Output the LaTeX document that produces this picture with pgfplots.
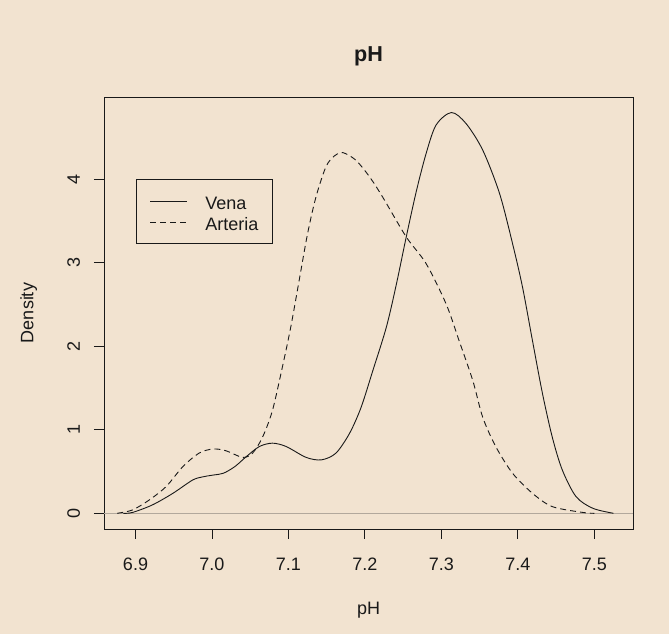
\documentclass[border=0pt]{standalone}
\usepackage{fontspec}
\setmainfont{Liberation Sans}
\usepackage{pgfplots}
\pgfplotsset{compat=1.18}
\definecolor{bgc}{RGB}{242,227,208}
\definecolor{ink}{RGB}{25,25,25}
\definecolor{zline}{RGB}{178,168,156}
\begin{document}
\begin{tikzpicture}
\useasboundingbox (0,0) rectangle (669bp,634bp);
\fill[bgc] (0,0) rectangle (669bp,634bp);
\begin{axis}[
  at={(104bp,105bp)}, anchor=south west, scale only axis,
  width=529bp, height=432bp,
  xmin=6.8588, xmax=7.5505, ymin=-0.188, ymax=4.986,
  axis line style={ink, line width=0.9bp},
  tick style={ink, line width=0.9bp},
  tick align=outside, tick pos=left, major tick length=10bp,
  xtick={6.9,7.0,7.1,7.2,7.3,7.4,7.5}, ytick={0,1,2,3,4},
  minor tick num=0,
  font=\fontsize{18bp}{21.6bp}\selectfont,
  /pgf/number format/assume math mode=true,
  tick label style={color=ink},
  xticklabel style={anchor=base, inner sep=0pt, yshift=-31.7bp,
    /pgf/number format/.cd, fixed, fixed zerofill, precision=1},
  yticklabel style={xshift=-14bp, rotate=90, anchor=base, inner sep=0pt},
  title={pH},
  title style={at={(rel axis cs:0.5,1.0678)}, anchor=base, inner sep=0pt,
    font=\fontsize{21.6bp}{26bp}\selectfont\bfseries, color=ink},
  xlabel={pH},
  xlabel style={at={(rel axis cs:0.5,-0.1968)}, anchor=base, inner sep=0pt, color=ink},
  ylabel={Density},
  ylabel style={at={(rel axis cs:-0.13365,0.5)}, anchor=base, inner sep=0pt, color=ink},
  legend image code/.code={\draw[#1] (0bp,0bp) -- (36.7bp,0bp);},
  legend cell align=left,
  legend style={at={(axis cs:6.9,4.0)}, anchor=north west, draw=ink, fill=bgc,
    line width=0.9bp, inner xsep=14bp, inner ysep=11bp, column sep=17.7bp,
    font=\fontsize{18bp}{21.6bp}\selectfont, text=ink,
    nodes={inner sep=0pt, text height=19bp, text depth=2bp}},
]
\addplot[zline, line width=0.7bp, forget plot] coordinates {(6.8588,0) (7.5505,0)};
\addplot[ink, line width=0.9bp, smooth, tension=0.5] coordinates {
(6.884,0) (6.896,0.01) (6.922,0.10) (6.949,0.24) (6.975,0.40) (6.990,0.44)
(7.003,0.46) (7.015,0.48) (7.030,0.56) (7.045,0.68) (7.062,0.80) (7.079,0.84)
(7.097,0.80) (7.123,0.67) (7.143,0.64) (7.162,0.72) (7.180,0.96) (7.195,1.27)
(7.210,1.70) (7.228,2.23) (7.241,2.74) (7.254,3.31) (7.267,3.85) (7.280,4.31)
(7.293,4.65) (7.313,4.80) (7.332,4.67) (7.354,4.35) (7.376,3.83) (7.393,3.23)
(7.406,2.71) (7.419,2.07) (7.432,1.44) (7.445,0.91) (7.458,0.52) (7.476,0.20)
(7.498,0.06) (7.525,0.00)};
\addlegendentry{Vena}
\addplot[ink, line width=0.9bp, dash pattern=on 6bp off 4bp, smooth, tension=0.5] coordinates {
(6.876,0) (6.896,0.04) (6.918,0.16) (6.940,0.32) (6.962,0.56) (6.983,0.72)
(7.001,0.77) (7.018,0.75) (7.040,0.67) (7.053,0.72) (7.066,0.91) (7.079,1.23)
(7.092,1.75) (7.103,2.23) (7.114,2.79) (7.125,3.35) (7.136,3.79) (7.149,4.15)
(7.160,4.28) (7.171,4.32) (7.188,4.23) (7.206,4.03) (7.223,3.79) (7.254,3.31)
(7.280,2.99) (7.306,2.51) (7.323,2.07) (7.341,1.59) (7.354,1.15) (7.371,0.80)
(7.393,0.48) (7.419,0.24) (7.445,0.08) (7.485,0.01) (7.500,0)};
\addlegendentry{Arteria}
\end{axis}
\end{tikzpicture}
\end{document}
